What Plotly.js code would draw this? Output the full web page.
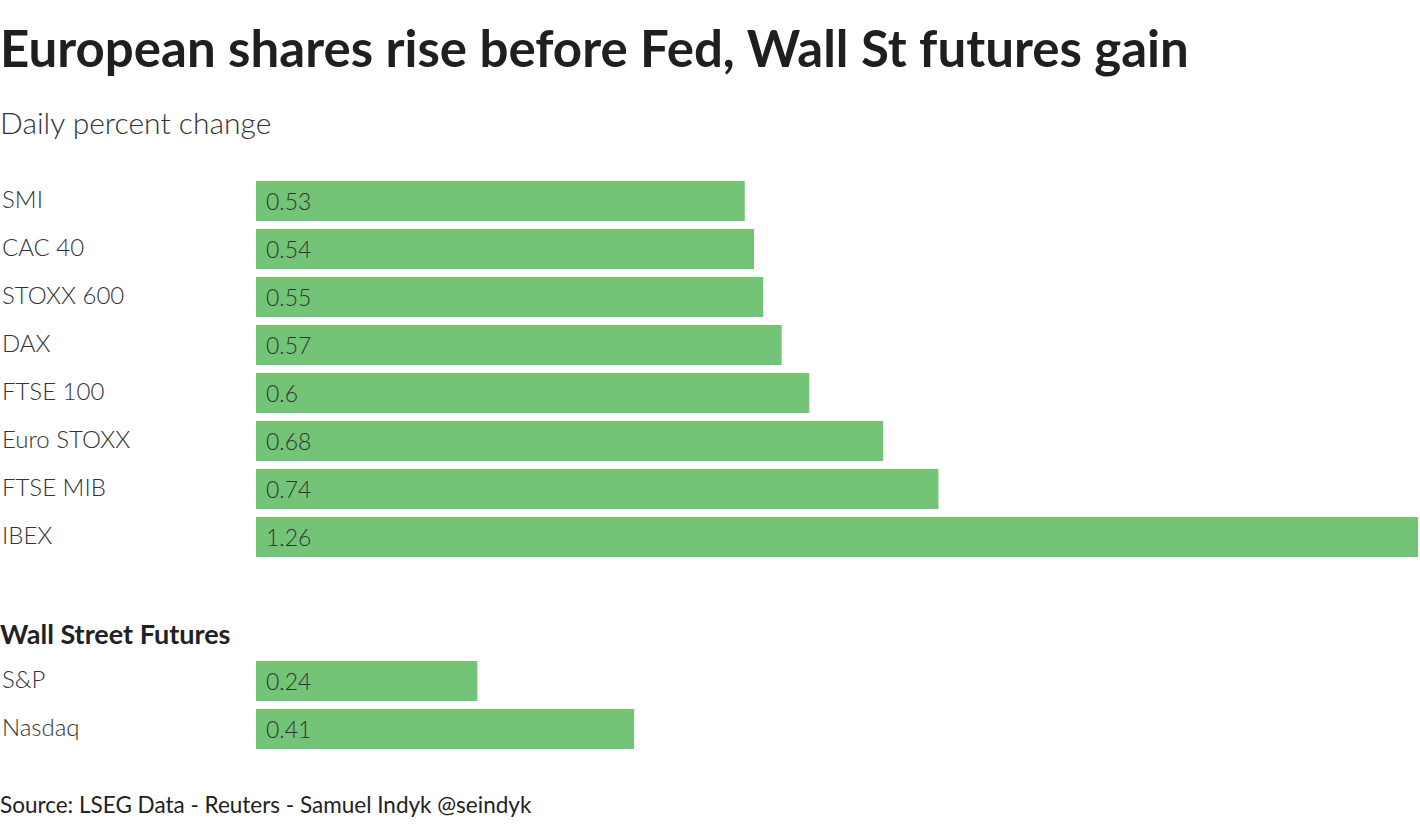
<!DOCTYPE html>
<html>
<head>
<meta charset="utf-8">
<script src="https://cdn.plot.ly/plotly-3.0.1.min.js"></script>
<style>html,body{margin:0;padding:0;background:#fff;}#chart{width:1420px;height:826px;}</style>
</head>
<body>
<div id="chart"></div>
<script>
const europeCategories = ['SMI', 'CAC 40', 'STOXX 600', 'DAX', 'FTSE 100', 'Euro STOXX', 'FTSE MIB', 'IBEX'];
const europeValues = [0.53, 0.54, 0.55, 0.57, 0.6, 0.68, 0.74, 1.26];
const futuresCategories = ['S&P', 'Nasdaq'];
const futuresValues = [0.24, 0.41];

const W = 1420, H = 826;
const GREEN = '#73c476';
const FONT = 'Lato, "Noto Sans", sans-serif';
const TXT = '#333333';

const traces = [
  {type: 'bar', orientation: 'h', x: europeValues, y: europeCategories, xaxis: 'x', yaxis: 'y',
   marker: {color: GREEN}, hoverinfo: 'none', showlegend: false},
  {type: 'bar', orientation: 'h', x: futuresValues, y: futuresCategories, xaxis: 'x', yaxis: 'y2',
   marker: {color: GREEN}, hoverinfo: 'none', showlegend: false}
];

function esc(s) { return s.replace(/&/g, '&amp;'); }

const annotations = [];
function addRows(cats, vals, yref) {
  cats.forEach((c, i) => {
    annotations.push({xref: 'paper', x: 0, xshift: 0, xanchor: 'left', yref: yref, y: c, yanchor: 'middle', yshift: 3,
      text: esc(c), showarrow: false, font: {family: FONT, size: 24, color: TXT, weight: 300}});
    annotations.push({xref: 'x', x: 0, xanchor: 'left', xshift: 8, yref: yref, y: c, yanchor: 'middle',
      text: String(vals[i]), showarrow: false, font: {family: FONT, size: 23, color: TXT, weight: 300}});
  });
}
addRows(europeCategories, europeValues, 'y');
addRows(futuresCategories, futuresValues, 'y2');

annotations.push({xref: 'paper', yref: 'paper', x: 0, xshift: -2, y: 1 - 122 / H, xanchor: 'left', yanchor: 'middle',
  text: 'Daily percent change', showarrow: false, font: {family: FONT, size: 30, color: TXT, weight: 300}});
annotations.push({xref: 'paper', yref: 'paper', x: 0, xshift: -2, y: 1 - 633 / H, xanchor: 'left', yanchor: 'middle',
  text: '<b>Wall Street Futures</b>', showarrow: false, font: {family: FONT, size: 27, color: '#222'}});
annotations.push({xref: 'paper', yref: 'paper', x: 0, xshift: -2, y: 1 - 804 / H, xanchor: 'left', yanchor: 'middle',
  text: 'Source: LSEG Data - Reuters - Samuel Indyk @seindyk', showarrow: false, font: {family: FONT, size: 22.5, color: '#222'}});

const layout = {
  width: W, height: H,
  margin: {l: 0, r: 0, t: 0, b: 0},
  paper_bgcolor: '#fff', plot_bgcolor: '#fff',
  title: {text: '<b>European shares rise before Fed, Wall St futures gain</b>', xref: 'paper', x: 0, xanchor: 'left',
    yref: 'container', y: 1 - 49 / H, yanchor: 'middle', font: {family: FONT, size: 51, color: '#1f1f1f'}},
  bargap: 0.167,
  xaxis: {domain: [256 / W, 1418 / W], range: [0, 1.26], showgrid: false, zeroline: false, showticklabels: false,
    showline: false, ticks: '', fixedrange: true},
  yaxis: {domain: [1 - 561 / H, 1 - 177 / H], type: 'category', autorange: 'reversed', showticklabels: false,
    showgrid: false, zeroline: false, ticks: '', fixedrange: true},
  yaxis2: {domain: [1 - 753 / H, 1 - 657 / H], type: 'category', autorange: 'reversed', anchor: 'x', showticklabels: false,
    showgrid: false, zeroline: false, ticks: '', fixedrange: true},
  annotations: annotations,
  showlegend: false
};

Plotly.newPlot('chart', traces, layout, {displayModeBar: false, staticPlot: true});
</script>
</body>
</html>
